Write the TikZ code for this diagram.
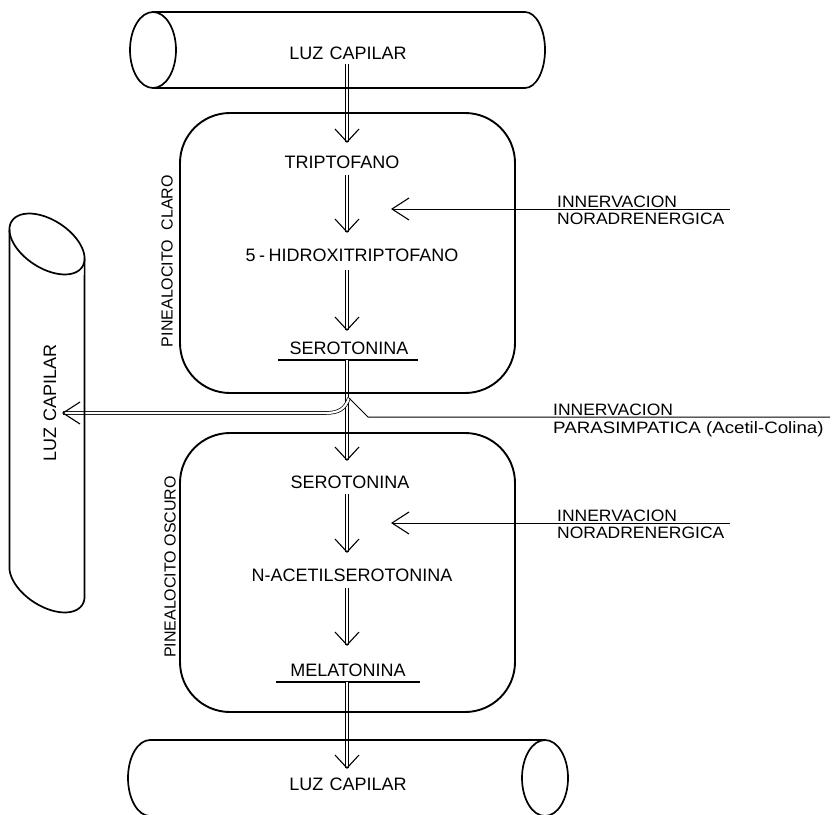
\documentclass[tikz,border=0pt]{standalone}
\usepackage{fontspec}
\setmainfont{Liberation Sans}
\usetikzlibrary{calc}
\begin{document}
\begin{tikzpicture}[x=1pt,y=-1pt,
  outline/.style={line width=1.7pt, line join=round},
  cellbox/.style={line width=1.9pt, rounded corners=50pt},
  shaft/.style={double, double distance=2.2pt, line width=0.7pt},
  nerve/.style={line width=1pt},
  headline/.style={line width=1.1pt, line join=miter},
  lbl/.style={inner sep=0pt, font=\fontsize{18}{20}\selectfont},
  sidelbl/.style={inner sep=0pt, font=\fontsize{16}{18}\selectfont},
  innlbl/.style={inner sep=0pt, font=\fontsize{16.5}{18}\selectfont\addfontfeature{FakeStretch=1.06}},
  vhead/.pic={\draw[headline] (-12,-13) -- (0,0) -- (12,-13);},
  lhead/.pic={\draw[headline] (17,-11) -- (0,0) -- (17,11);},
]
\useasboundingbox (0,0) rectangle (834,814);

% ---------- labels ----------
\node[lbl] (luzTop) at (348,53) {LUZ\hspace{0.35em}CAPILAR};
\node[lbl] (trip) at (342,162) {TRIPTOFANO};
\node[lbl] (hidroxi) at (352,255) {5\hspace{0.2em}-\hspace{0.2em}HIDROXITRIPTOFANO};
\node[lbl] (seroA) at (349,348) {SEROTONINA};
\node[lbl] (seroB) at (350,482) {SEROTONINA};
\node[lbl] (nacetil) at (352,575) {N-ACETILSEROTONINA};
\node[lbl] (mela) at (348,670) {MELATONINA};
\node[lbl] (luzBot) at (348,784) {LUZ\hspace{0.35em}CAPILAR};
\node[lbl, rotate=90] (luzLeft) at (50,403) {LUZ\hspace{0.3em}CAPILAR};
\node[sidelbl, rotate=90] (claro) at (167,261) {PINEALOCITO\hspace{0.6em}CLARO};
\node[sidelbl, rotate=90] (oscuro) at (170,567) {PINEALOCITO OSCURO};

\node[innlbl, anchor=base west] (innA1) at (557,207) {INNERVACION};
\node[innlbl, anchor=north west] (innA2) at (557,213) {NORADRENERGICA};
\node[innlbl, anchor=base west] (innP1) at (553,415) {INNERVACION};
\node[innlbl, anchor=north west] (innP2) at (553,421) {\scalebox{1.07}[1]{PARASIMPATICA (Acetil-Colina)}};
\node[innlbl, anchor=base west] (innB1) at (557,521) {INNERVACION};
\node[innlbl, anchor=north west] (innB2) at (557,527) {NORADRENERGICA};

% ---------- underlines ----------
\coordinate (uA1) at (278,360); \coordinate (uA2) at (418,360);
\coordinate (uB1) at (276,682); \coordinate (uB2) at (420,682);
\draw[line width=1.1pt] (uA1) -- (uA2);
\draw[line width=1.1pt] (uB1) -- (uB2);

% ---------- metabolic path (double shafts) ----------
\coordinate (s0) at (347,64);  \coordinate (t0) at (347,142);
\coordinate (s1) at (347,175); \coordinate (t1) at (347,232);
\coordinate (s2) at (347,270); \coordinate (t2) at (347,330);
\coordinate (s3) at (347,360); \coordinate (t3) at (347,460);
\coordinate (s4) at (347,494); \coordinate (t4) at (347,552);
\coordinate (s5) at (347,588); \coordinate (t5) at (347,645);
\coordinate (s6) at (347,682); \coordinate (t6) at (347,768);
\foreach \i in {0,...,6} {
  \draw[shaft] (s\i) -- (t\i);
  \pic at (t\i) {vhead};
}

% ---------- parasympathetic fibre ----------
\coordinate (pR) at (830,417);
\coordinate (pK) at (368,417);
\coordinate (pTop) at (349,398);
\coordinate (pTip) at (63,413);
\draw[shaft] (pTop) .. controls (345,409) and (339,413) .. (325,413) -- (pTip);
\pic at (pTip) {lhead};
\draw[nerve] (pR) -- (pK) -- (pTop);

% ---------- noradrenergic fibres ----------
\coordinate (nAR) at (730,209); \coordinate (nAT) at (392,209);
\coordinate (nBR) at (730,523); \coordinate (nBT) at (392,523);
\draw[nerve] (nAR) -- (nAT);
\pic at (nAT) {lhead};
\draw[nerve] (nBR) -- (nBT);
\pic at (nBT) {lhead};

% ---------- pinealocytes ----------
\draw[cellbox] (180,113) rectangle (515,393);
\draw[cellbox] (180,433) rectangle (515,712);

% ---------- capillaries ----------
% top, horizontal
\draw[outline] (153,50) ellipse [x radius=23, y radius=38];
\draw[outline] (153,12) -- (525,12)
  arc[start angle=-90, end angle=90, x radius=20, y radius=38] -- (153,88);
% bottom, horizontal
\draw[outline] (545,740) -- (150,740)
  arc[start angle=-90, end angle=-270, x radius=22, y radius=38] -- (545,816);
\draw[outline] (545,778) ellipse [x radius=23, y radius=38];
% left, vertical with oblique section
\draw[outline] plot[domain=0:360, samples=73, smooth]
  ({47+42*cos(33)*cos(\x)-24*sin(33)*sin(\x)}, {244+42*sin(33)*cos(\x)+24*cos(33)*sin(\x)}) -- cycle;
\draw[outline] (9.4,229.6) -- plot[domain=159.6:-20.4, samples=40, smooth]
  ({47+42*cos(33)*cos(\x)-24*sin(33)*sin(\x)}, {582+42*sin(33)*cos(\x)+24*cos(33)*sin(\x)})
  -- (84.6,258.4);
\end{tikzpicture}
\end{document}
